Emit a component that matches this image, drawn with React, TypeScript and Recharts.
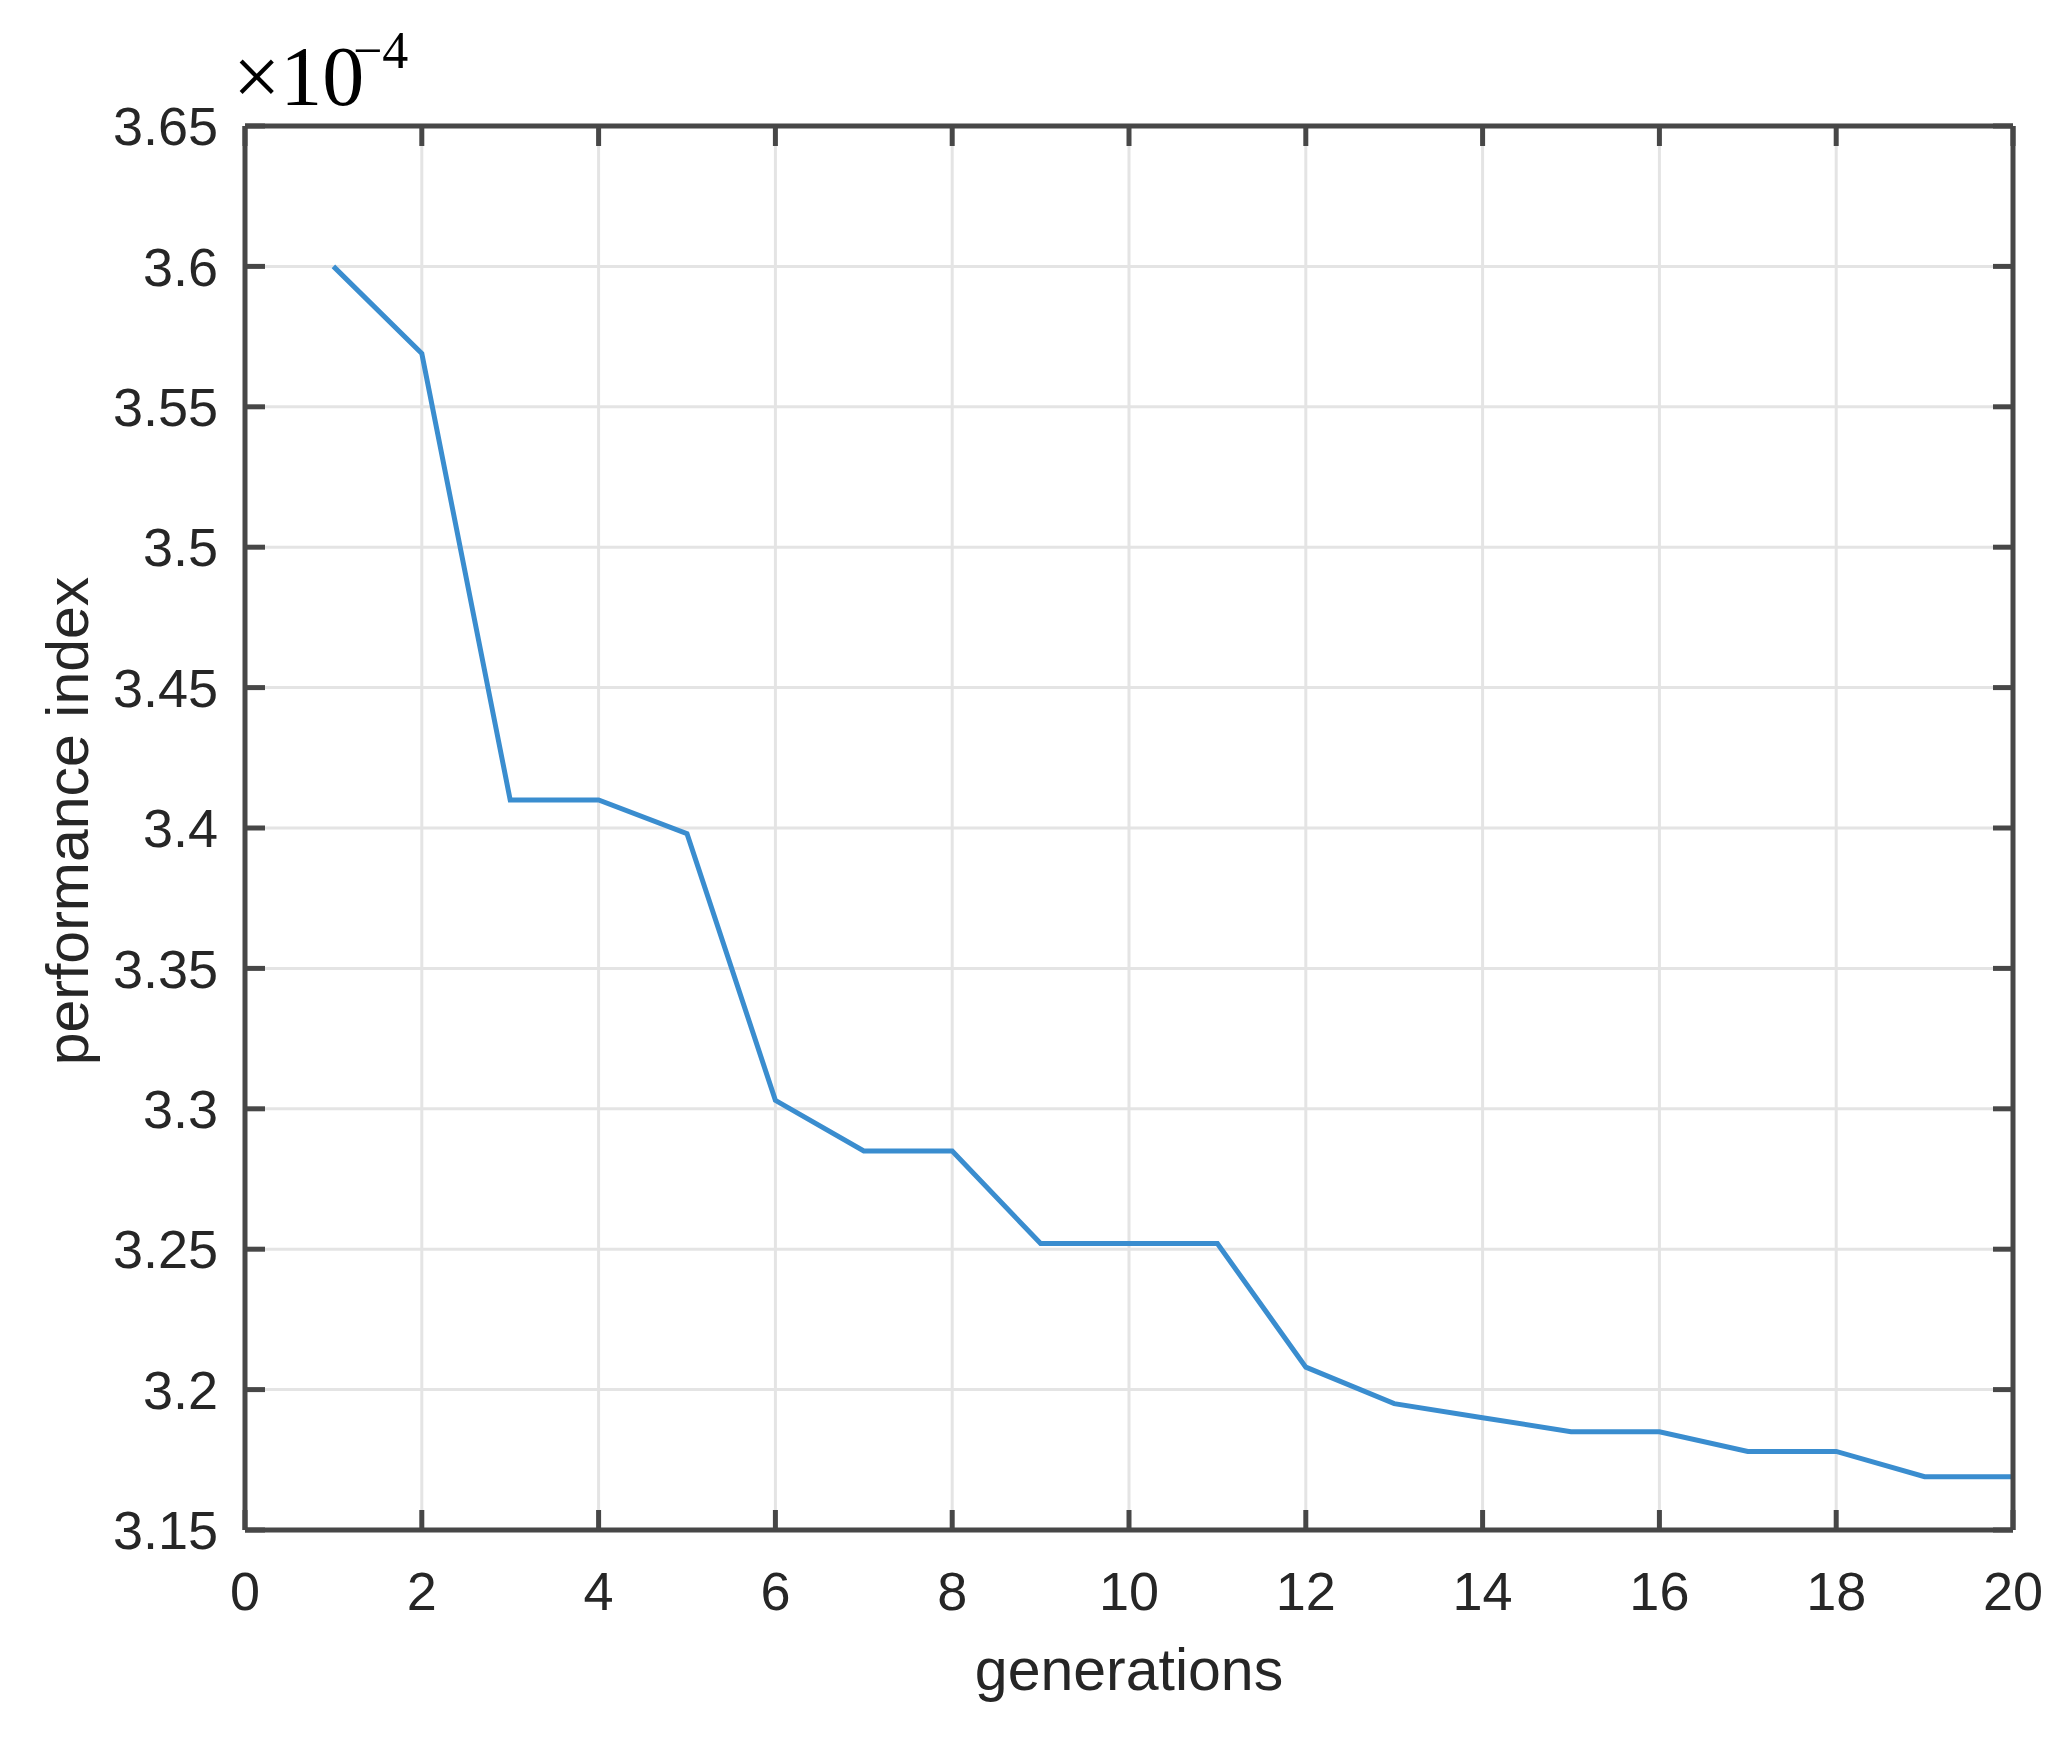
import React from "react";
import { LineChart, Line, XAxis, YAxis, CartesianGrid, Label } from "recharts";

// generation index and best performance index (in units of 1e-4)
const generations = [1, 2, 3, 4, 5, 6, 7, 8, 9, 10, 11, 12, 13, 14, 15, 16, 17, 18, 19, 20];
const performanceIndex = [
  3.6, 3.569, 3.41, 3.41, 3.398, 3.303, 3.285, 3.285, 3.252, 3.252,
  3.252, 3.208, 3.195, 3.19, 3.185, 3.185, 3.178, 3.178, 3.169, 3.169,
];

const xTicks = [0, 2, 4, 6, 8, 10, 12, 14, 16, 18, 20];
const yTicks = [3.15, 3.2, 3.25, 3.3, 3.35, 3.4, 3.45, 3.5, 3.55, 3.6, 3.65];

const data = generations.map((g, i) => ({ gen: g, value: performanceIndex[i] }));

const FONT = "'Liberation Sans', Arial, sans-serif";
const AXIS_COLOR = "#474747";
const TEXT_COLOR = "#262626";
const LINE_COLOR = "#3a8dcf";

const tickStyle = { fontSize: 54, fill: TEXT_COLOR, fontFamily: FONT };

function NoTick() {
  return <g />;
}

function XLabel({ viewBox }: any) {
  const { x, y, width } = viewBox;
  return (
    <text
      x={x + width / 2}
      y={y + 160}
      textAnchor="middle"
      fontSize={59}
      fill={TEXT_COLOR}
      fontFamily={FONT}
    >
      generations
    </text>
  );
}

function YLabel({ viewBox }: any) {
  const { x, y, height } = viewBox;
  const cx = x + 43;
  const cy = y + height / 2 - 7;
  return (
    <text
      x={cx}
      y={cy}
      transform={`rotate(-90 ${cx} ${cy})`}
      textAnchor="middle"
      fontSize={59}
      fill={TEXT_COLOR}
      fontFamily={FONT}
    >
      performance index
    </text>
  );
}

function ExponentLabel({ viewBox }: any) {
  const { x, y, width } = viewBox;
  const left = x + width - 12;
  return (
    <text fill="#000" fontFamily="'Liberation Serif', 'Times New Roman', serif">
      <tspan x={left} y={y - 21} fontSize={84}>
        ×10
      </tspan>
      <tspan x={left + 120} y={y - 58} fontSize={52}>
        −4
      </tspan>
    </text>
  );
}

export default function App() {
  return (
    <div
      style={{
        position: "absolute",
        left: 0,
        top: 0,
        width: 2068,
        height: 1744,
        background: "#fff",
      }}
    >
      <LineChart
        width={2068}
        height={1744}
        data={data}
        margin={{ top: 125, right: 54, bottom: 24, left: 45 }}
      >
        <CartesianGrid stroke="#e4e4e4" strokeWidth={3} />
        <XAxis
          dataKey="gen"
          type="number"
          domain={[0, 20]}
          ticks={xTicks}
          height={190}
          stroke={AXIS_COLOR}
          strokeWidth={5}
          tickSize={-20}
          tickMargin={62}
          tick={tickStyle}
        >
          <Label content={<XLabel />} />
        </XAxis>
        <XAxis
          xAxisId="top"
          dataKey="gen"
          orientation="top"
          type="number"
          domain={[0, 20]}
          ticks={xTicks}
          height={1}
          stroke={AXIS_COLOR}
          strokeWidth={5}
          tickSize={-20}
          tick={<NoTick />}
        />
        <YAxis
          type="number"
          domain={[3.15, 3.65]}
          ticks={yTicks}
          width={200}
          stroke={AXIS_COLOR}
          strokeWidth={5}
          tickSize={-20}
          tickMargin={47}
          tick={tickStyle}
        >
          <Label content={<YLabel />} />
          <Label content={<ExponentLabel />} />
        </YAxis>
        <YAxis
          yAxisId="right"
          orientation="right"
          type="number"
          domain={[3.15, 3.65]}
          ticks={yTicks}
          width={1}
          stroke={AXIS_COLOR}
          strokeWidth={5}
          tickSize={-20}
          tick={<NoTick />}
        />
        {/* invisible twin so the top and right axes of the box get drawn */}
        <Line
          xAxisId="top"
          yAxisId="right"
          type="linear"
          dataKey="value"
          stroke="none"
          dot={false}
          activeDot={false}
          legendType="none"
          isAnimationActive={false}
        />
        <Line
          type="linear"
          dataKey="value"
          stroke={LINE_COLOR}
          strokeWidth={5}
          dot={false}
          isAnimationActive={false}
        />
      </LineChart>
    </div>
  );
}
